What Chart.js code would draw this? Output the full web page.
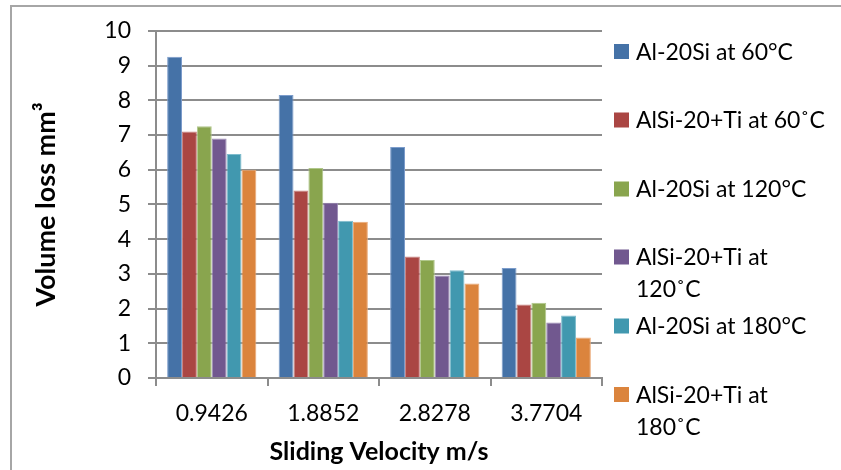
<!DOCTYPE html>
<html>
<head>
<meta charset="utf-8">
<script src="https://cdn.jsdelivr.net/npm/chart.js@4.4.1/dist/chart.umd.min.js"></script>
<style>
  body { margin: 0; background: #fff; }
  #wrap { position: relative; width: 841px; height: 470px; overflow: hidden; }
  #frame { position: absolute; left: 10px; top: 5px; width: 900px; height: 500px;
           border-left: 2px solid #a6a6a6; border-top: 2px solid #a6a6a6; pointer-events: none; }
  canvas { position: absolute; left: 0; top: 0; }
</style>
</head>
<body>
<div id="wrap">
  <canvas id="chart" width="841" height="470"></canvas>
  <div id="frame"></div>
</div>
<script>
// data
var categories = ['0.9426', '1.8852', '2.8278', '3.7704'];
var seriesNames = ['Al-20Si at 60°C', 'AlSi-20+Ti at 60˚C', 'Al-20Si at 120°C',
                   'AlSi-20+Ti at 120˚C', 'Al-20Si at 180°C', 'AlSi-20+Ti at 180˚C'];
var al60 = [9.25, 8.15, 6.65, 3.17];
var ti60 = [7.1, 5.4, 3.5, 2.12];
var al120 = [7.25, 6.05, 3.4, 2.17];
var ti120 = [6.9, 5.05, 2.95, 1.6];
var al180 = [6.45, 4.53, 3.1, 1.8];
var ti180 = [6.0, 4.5, 2.72, 1.17];
var yTicks = [0, 1, 2, 3, 4, 5, 6, 7, 8, 9, 10];

var colors = ['#4572A7', '#AA4643', '#89A54E', '#71588F', '#4198AF', '#DB843D'];
var edges = ['#7c9ccb', '#c98482', '#b0c78b', '#9a88b5', '#7ebccd', '#eaa977'];
var allValues = [al60, ti60, al120, ti120, al180, ti180];

var FONT = 'Lato';
var gridGray = '#8c8c8c';

var datasets = [];
for (var i = 0; i < allValues.length; i++) {
    datasets.push({
        label: seriesNames[i],
        data: allValues[i],
        backgroundColor: colors[i],
        borderColor: edges[i],
        borderWidth: 1,
        categoryPercentage: 0.8,
        barPercentage: 1.0
    });
}

// legend drawn on the canvas, right of the plot
var sideLegend = {
    id: 'sideLegend',
    afterDraw: function (chart) {
        var ctx = chart.ctx;
        var x0 = 614, textX = 636, maxW = 196, box = 15;
        var rowY = [51.5, 120, 189, 257, 326, 394.5];
        ctx.save();
        ctx.font = '23px ' + FONT;
        ctx.textBaseline = 'middle';
        ctx.textAlign = 'left';
        chart.data.datasets.forEach(function (ds, i) {
            var y = rowY[i];
            ctx.fillStyle = ds.backgroundColor;
            ctx.fillRect(x0, y - box / 2, box, box);
            var words = ds.label.split(' ');
            var lines = [];
            var cur = '';
            words.forEach(function (w) {
                var test = cur ? cur + ' ' + w : w;
                if (ctx.measureText(test).width > maxW && cur) {
                    lines.push(cur);
                    cur = w;
                } else {
                    cur = test;
                }
            });
            lines.push(cur);
            ctx.fillStyle = '#000';
            lines.forEach(function (line, k) {
                ctx.fillText(line, textX, y + 1 + k * 32);
            });
        });
        ctx.restore();
    }
};

new Chart(document.getElementById('chart'), {
    type: 'bar',
    data: { labels: categories, datasets: datasets },
    plugins: [sideLegend],
    options: {
        responsive: false,
        animation: false,
        layout: { padding: { left: 0, top: 25, right: 239, bottom: 0 } },
        plugins: { legend: { display: false }, tooltip: { enabled: false } },
        scales: {
            x: {
                grid: { drawOnChartArea: false, drawTicks: true, tickLength: 8, color: gridGray, lineWidth: 2 },
                border: { color: gridGray, width: 2 },
                ticks: { color: '#000', font: { family: FONT, size: 23 }, padding: 14, maxRotation: 0 },
                title: { display: true, text: 'Sliding Velocity m/s', color: '#000',
                         font: { family: FONT, size: 25, weight: 'bold' }, padding: { top: 0, bottom: 3 } },
                afterFit: function (scale) { scale.height = 92; }
            },
            y: {
                min: 0,
                max: 10,
                afterBuildTicks: function (scale) {
                    scale.ticks = yTicks.map(function (v) { return { value: v }; });
                },
                grid: { color: gridGray, lineWidth: 2, tickLength: 8 },
                border: { color: gridGray, width: 2 },
                ticks: { color: '#000', font: { family: FONT, size: 23 }, padding: 17 },
                title: { display: true, text: 'Volume loss mm³', color: '#000',
                         font: { family: FONT, size: 27, weight: 'bold' }, padding: { top: 30, bottom: 0 } },
                afterFit: function (scale) { scale.width = 156; }
            }
        }
    }
});
</script>
</body>
</html>
